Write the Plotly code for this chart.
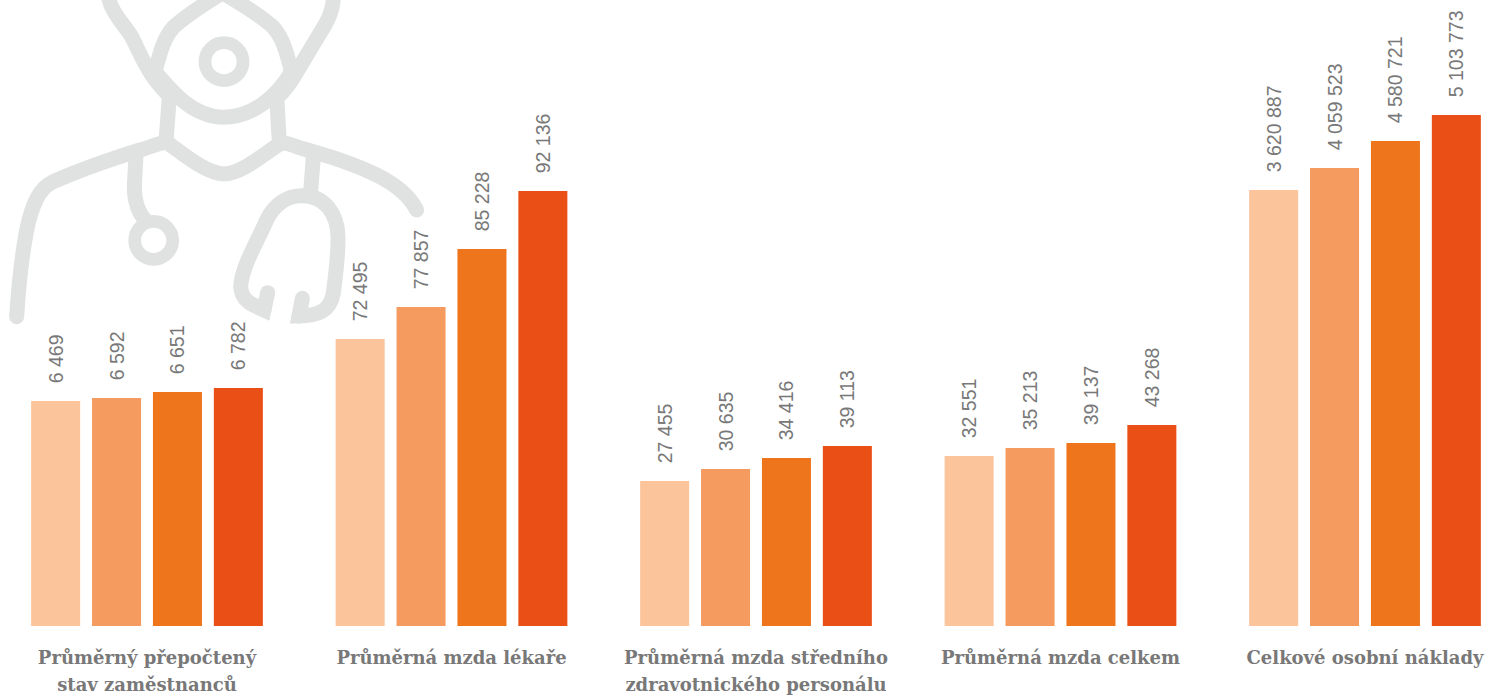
import plotly.graph_objects as go
import re

categories = ["Průměrný přepočtený<br>stav zaměstnanců", "Průměrná mzda lékaře",
              "Průměrná mzda středního<br>zdravotnického personálu", "Průměrná mzda celkem",
              "Celkové osobní náklady"]
# bar heights as drawn in the picture (the source chart scales each step unevenly)
series_1 = [225, 287, 145, 170, 436]
series_2 = [228, 319, 157, 178, 458]
series_3 = [234, 377, 168, 183, 485]
series_4 = [238, 435, 180, 201, 511]
labels_1 = ["6 469", "72 495", "27 455", "32 551", "3 620 887"]
labels_2 = ["6 592", "77 857", "30 635", "35 213", "4 059 523"]
labels_3 = ["6 651", "85 228", "34 416", "39 137", "4 580 721"]
labels_4 = ["6 782", "92 136", "39 113", "43 268", "5 103 773"]
colors = ["#fbc49a", "#f59b60", "#ef751d", "#ea5015"]

W, H = 1486, 695
GREY = "#e0e2e1"
TEXT = "#787878"
PAD = "\u00a0\u00a0\u2009"


def icon_path(d):
    """Zoom-crop coordinates (3x) -> paper coordinates."""
    out, is_x = [], True
    for tok in re.findall(r"[MCLZ]|-?\d+\.?\d*", d):
        if tok in "MCLZ":
            out.append(tok)
            is_x = True
        else:
            v = float(tok) / 3
            out.append(f"{v / W:.5f}" if is_x else f"{1 - v / H:.5f}")
            is_x = not is_x
    return " ".join(out)


icon_lines = [
    "M 325 -10 C 335 40 370 70 395 110 C 420 160 440 210 470 245 C 480 258 495 275 510 290",
    "M 1000 -10 C 1000 30 985 60 960 100 C 930 150 905 190 885 225 C 870 250 850 275 835 290",
    "M 465 215 C 480 160 490 115 520 82 C 565 40 620 8 668 -22 C 715 8 775 40 820 82 C 850 115 860 160 875 215",
    "M 465 215 C 520 280 580 350 670 352 C 760 350 830 290 875 215",
    "M 508 290 L 498 425",
    "M 830 290 L 838 428",
    "M 498 425 C 560 470 620 520 672 522 C 725 520 780 470 845 428",
    "M 498 425 C 470 432 440 445 420 450 C 350 472 250 505 160 545 C 115 565 95 620 80 690 C 65 770 55 870 50 950",
    "M 845 428 C 875 432 900 445 930 452 C 1000 472 1070 495 1130 525 C 1190 555 1230 590 1250 630",
    "M 408 465 L 403 560 C 403 610 415 640 440 665",
    "M 940 470 L 932 575",
    "M 803 878 L 792 930 C 760 915 725 905 722 860 C 725 800 770 730 800 660 C 825 610 865 587 905 587 "
    "C 975 587 1012 640 1014 710 C 1015 770 1005 840 1000 880 C 990 935 950 948 897 948 L 907 895",
]
icon_rings = [(672, 185), (461, 721)]
icon_caps = [(50, 950), (1250, 630), (803, 878), (792, 930), (907, 895), (897, 948)]

shapes = []
for d in icon_lines:
    shapes.append(dict(type="path", xref="paper", yref="paper", path=icon_path(d), layer="below",
                       line=dict(color=GREY, width=15), fillcolor="rgba(0,0,0,0)"))
for cx, cy in icon_rings:
    shapes.append(dict(type="circle", xref="paper", yref="paper", layer="below",
                       x0=(cx - 57) / 3 / W, x1=(cx + 57) / 3 / W,
                       y0=1 - (cy + 57) / 3 / H, y1=1 - (cy - 57) / 3 / H,
                       line=dict(color=GREY, width=12.7), fillcolor="rgba(0,0,0,0)"))
for cx, cy in icon_caps:
    shapes.append(dict(type="circle", xref="paper", yref="paper", layer="below",
                       x0=(cx - 22.5) / 3 / W, x1=(cx + 22.5) / 3 / W,
                       y0=1 - (cy + 22.5) / 3 / H, y1=1 - (cy - 22.5) / 3 / H,
                       line=dict(width=0), fillcolor=GREY))

fig = go.Figure()
for vals, labs, col in zip([series_1, series_2, series_3, series_4],
                           [labels_1, labels_2, labels_3, labels_4], colors):
    fig.add_trace(go.Bar(
        x=list(range(len(categories))), y=vals,
        text=[PAD + t for t in labs], textposition="outside", textangle=-90, constraintext="none",
        textfont=dict(family="Liberation Sans", size=19.5, color=TEXT),
        cliponaxis=False, marker=dict(color=col, line=dict(width=0)),
        hoverinfo="skip", showlegend=False))

tick_text = ['<span style="font-size:18px">' + c.replace("<br>", '</span><br><span style="font-size:18px">') + "</span>"
             for c in categories]

x0 = -0.5 + 5.25 / 304.5
fig.update_layout(
    width=W, height=H, margin=dict(l=0, r=0, t=0, b=0, pad=0),
    paper_bgcolor="white", plot_bgcolor="rgba(0,0,0,0)",
    barmode="group", bargap=0.2, bargroupgap=0.195, uniformtext=dict(mode=False),
    shapes=shapes, showlegend=False,
    xaxis=dict(range=[x0, x0 + W / 304.5], tickmode="array",
               tickvals=list(range(len(categories))), ticktext=tick_text,
               tickfont=dict(family="DejaVu Serif", size=20.7, color=TEXT, weight="bold"),
               ticks="outside", ticklen=12, tickcolor="rgba(0,0,0,0)", tickangle=0,
               showgrid=False, zeroline=False, showline=False, automargin=False),
    yaxis=dict(domain=[69 / H, 1], range=[0, 626], visible=False, fixedrange=True),
)
fig.write_html("out.html", post_script="document.body.style.margin='0';document.body.style.overflow='hidden';",
               config=dict(displayModeBar=False))
